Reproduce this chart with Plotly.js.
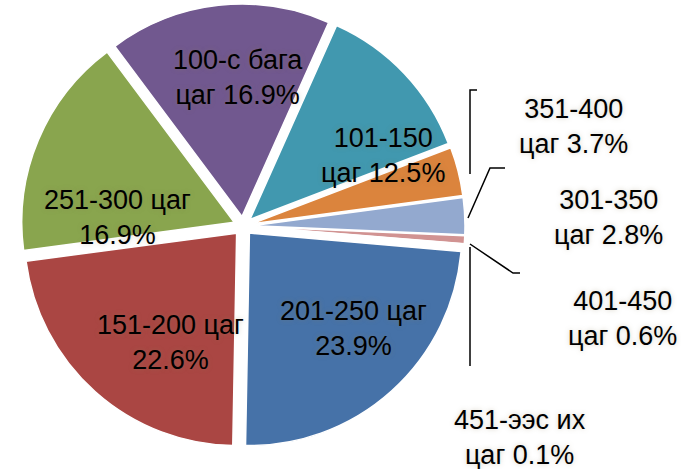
<!DOCTYPE html>
<html>
<head>
<meta charset="utf-8">
<script src="https://cdn.plot.ly/plotly-3.0.1.min.js"></script>
<style>html,body{margin:0;padding:0;background:#fff;}#chart{width:681px;height:469px;}</style>
</head>
<body>
<div id="chart"></div>
<script>
// Data (clockwise from ~3 o'clock)
var categories = ["201-250 цаг", "151-200 цаг", "251-300 цаг", "100-с бага цаг", "101-150 цаг", "351-400 цаг", "301-350 цаг", "401-450 цаг", "451-ээс их цаг"];
var shares = [23.9, 22.6, 16.9, 16.9, 12.5, 3.7, 2.8, 0.6, 0.1];
var colors = ["#4672A8", "#AA4643", "#89A54E", "#71588F", "#4198AF", "#DB843D", "#93A9CF", "#D19392", "#B9CD96"];

var W = 681, H = 469;
function px(x) { return x / W; }
function py(y) { return 1 - y / H; }

// label layout: break before "цаг" (true) or before the percentage (false)
var breakBeforeUnit = [false, false, false, true, true, true, true, true, true];
var labelPos = [[353, 328], [170, 342], [117, 218], [238, 78], [383, 156], [573, 126], [608, 218], [622, 318], [520, 437]];

var annotations = categories.map(function (c, i) {
  var t = breakBeforeUnit[i] ? c.replace(' цаг', '<br>цаг') + ' ' + shares[i].toFixed(1) + '%'
                              : c + '<br>' + shares[i].toFixed(1) + '%';
  return {
    xref: 'paper', yref: 'paper', x: px(labelPos[i][0]), y: py(labelPos[i][1]),
    xanchor: 'center', yanchor: 'middle', showarrow: false, text: t,
    font: {family: 'Liberation Sans, Arial, sans-serif', size: 27, color: '#000',
           shadow: '0px 0px 5px rgba(140,125,90,0.35)'}
  };
});

function path(pts) {
  return pts.map(function (p, i) { return (i ? 'L' : 'M') + px(p[0]) + ',' + py(p[1]); }).join(' ');
}
var leaders = [
  [[477, 90], [470, 90], [470, 174]],
  [[468, 218], [490, 168], [505, 168]],
  [[470, 244], [513, 273], [520, 273]],
  [[470, 247], [470, 366]]
];
var shapes = leaders.map(function (l) {
  return {type: 'path', xref: 'paper', yref: 'paper', path: path(l), line: {color: '#000', width: 1.5}};
});

var cx = 243, cy = 226, half = 222;
var trace = {
  type: 'pie',
  labels: categories,
  values: shares,
  sort: false,
  direction: 'clockwise',
  rotation: 95,
  pull: 0.045,
  textinfo: 'none',
  hoverinfo: 'skip',
  marker: {colors: colors, line: {color: '#fff', width: 1.5}},
  domain: {x: [px(cx - half), px(cx + half)], y: [py(cy + half), py(cy - half)]}
};

Plotly.newPlot('chart', [trace], {
  width: W, height: H,
  margin: {l: 0, r: 0, t: 0, b: 0},
  paper_bgcolor: '#fff',
  showlegend: false,
  annotations: annotations,
  shapes: shapes
}, {displayModeBar: false, staticPlot: true});
</script>
</body>
</html>
